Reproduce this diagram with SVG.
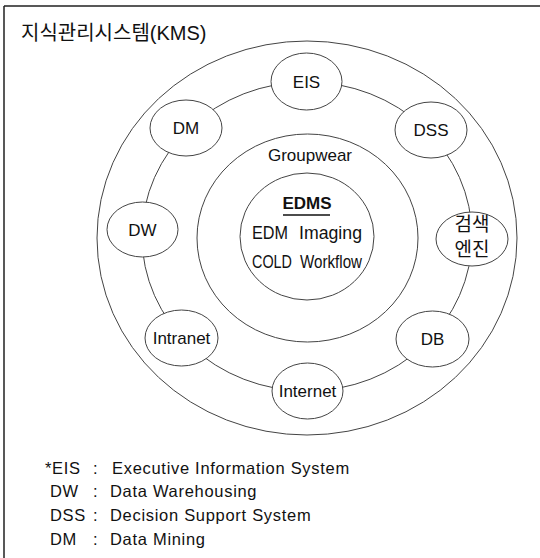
<svg xmlns="http://www.w3.org/2000/svg" width="540" height="558" viewBox="0 0 540 558">
  <style>
    .ring { fill: none; stroke: #444; stroke-width: 1; }
    .node ellipse { fill: #fff; stroke: #444; stroke-width: 1; }
    .lbl { font-family: "Liberation Sans", Arial, sans-serif; font-size: 17px; fill: #111; text-anchor: middle; }
    .core { font-family: "Liberation Sans", Arial, sans-serif; font-size: 17.5px; fill: #111; }
    .ko { font-family: "Liberation Sans", "Noto Sans CJK KR", sans-serif; fill: #111; }
    .leg { font-family: "Liberation Sans", Arial, sans-serif; font-size: 16.5px; fill: #111; letter-spacing: 0.7px; }
  </style>

  <rect width="540" height="558" fill="#fff"/>

  <!-- frame: top and left border -->
  <path d="M4 6 H540 M4 6 V558" fill="none" stroke="#222" stroke-width="1.5"/>

  <text class="ko" x="21" y="40" font-size="20">지식관리시스템(KMS)</text>

  <!-- concentric rings -->
  <g id="connectors">
    <ellipse class="ring" cx="307" cy="238" rx="210" ry="197"/>
    <ellipse class="ring" cx="307" cy="236.5" rx="165" ry="154.5"/>
  </g>

  <g id="groupwear">
    <ellipse class="ring" cx="307.5" cy="238" rx="110.5" ry="104"/>
    <text class="lbl" x="310" y="161">Groupwear</text>
  </g>

  <g id="edms">
    <ellipse class="ring" cx="307" cy="236.5" rx="67" ry="63.5"/>
    <text class="lbl" x="307" y="209" font-weight="bold">EDMS</text>
    <line x1="283" y1="215" x2="330" y2="215" stroke="#111" stroke-width="1.3"/>
    <text class="core" x="252" y="239" textLength="36" lengthAdjust="spacingAndGlyphs">EDM</text>
    <text class="core" x="299" y="239" textLength="63" lengthAdjust="spacingAndGlyphs">Imaging</text>
    <text class="core" x="252" y="268" textLength="40" lengthAdjust="spacingAndGlyphs">COLD</text>
    <text class="core" x="300" y="268" textLength="62" lengthAdjust="spacingAndGlyphs">Workflow</text>
  </g>

  <!-- nodes on the middle ring -->
  <g id="eis" class="node">
    <ellipse cx="306.5" cy="81.5" rx="35.5" ry="28.5"/>
    <text class="lbl" x="306.5" y="88">EIS</text>
  </g>
  <g id="dss" class="node">
    <ellipse cx="431" cy="130" rx="36" ry="28"/>
    <text class="lbl" x="431" y="136">DSS</text>
  </g>
  <g id="dm" class="node">
    <ellipse cx="186" cy="128" rx="36" ry="28"/>
    <text class="lbl" x="186" y="134">DM</text>
  </g>
  <g id="dw" class="node">
    <ellipse cx="142.5" cy="229.5" rx="35.5" ry="27.5"/>
    <text class="lbl" x="142.5" y="236">DW</text>
  </g>
  <g id="search-engine" class="node">
    <ellipse cx="472" cy="239" rx="36" ry="27"/>
    <text class="ko" x="472" y="231" font-size="19" text-anchor="middle">검색</text>
    <text class="ko" x="472" y="256" font-size="19" text-anchor="middle">엔진</text>
  </g>
  <g id="intranet" class="node">
    <ellipse cx="181.5" cy="338" rx="36.5" ry="28"/>
    <text class="lbl" x="181.5" y="344">Intranet</text>
  </g>
  <g id="db" class="node">
    <ellipse cx="432.5" cy="339" rx="36.5" ry="28"/>
    <text class="lbl" x="432.5" y="345">DB</text>
  </g>
  <g id="internet" class="node">
    <ellipse cx="307.5" cy="391" rx="35.5" ry="28"/>
    <text class="lbl" x="307.5" y="397">Internet</text>
  </g>

  <!-- abbreviations -->
  <g id="legend">
    <text class="leg" x="45" y="474">*EIS</text>
    <text class="leg" x="93" y="474">:</text>
    <text class="leg" x="112" y="474">Executive Information System</text>
    <text class="leg" x="50" y="497">DW</text>
    <text class="leg" x="93" y="497">:</text>
    <text class="leg" x="110" y="497">Data Warehousing</text>
    <text class="leg" x="50" y="521">DSS</text>
    <text class="leg" x="93" y="521">:</text>
    <text class="leg" x="110" y="521">Decision Support System</text>
    <text class="leg" x="50" y="545">DM</text>
    <text class="leg" x="93" y="545">:</text>
    <text class="leg" x="110" y="545">Data Mining</text>
  </g>
</svg>
